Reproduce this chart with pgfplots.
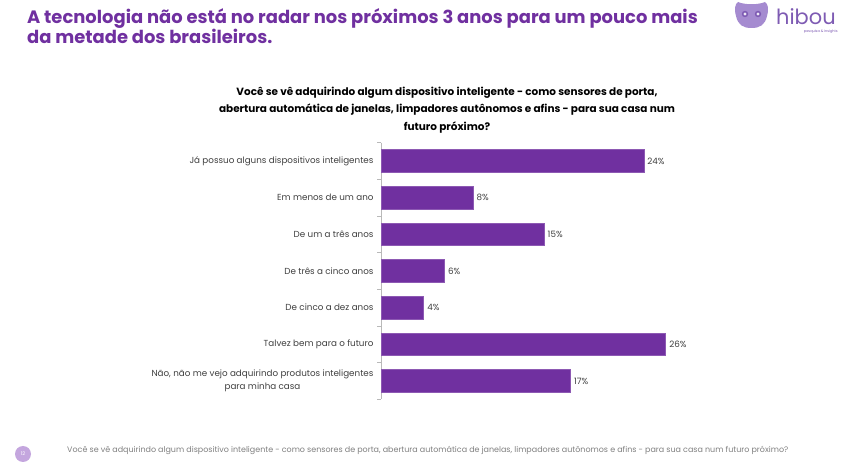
\documentclass[border=0pt]{standalone}
\usepackage{fontspec}
\setmainfont{Poppins}
\usepackage{pgfplots}
\usepackage{pgfplotstable}
\pgfplotsset{compat=1.18}
\definecolor{barpurple}{HTML}{7030A0}
\definecolor{titlepurple}{HTML}{7030A0}
\definecolor{labgray}{HTML}{404040}
\definecolor{footgray}{HTML}{808080}
\definecolor{lilac}{HTML}{C4A6DE}
\definecolor{owl}{HTML}{A58BD0}
\definecolor{owldark}{HTML}{7E5BB3}
\pgfplotstableread{
y x meta
0 24.0 24
1 8.4 8
2 14.9 15
3 5.8 6
4 3.9 4
5 26.0 26
6 17.3 17
}\datatable
\begin{document}
\begin{tikzpicture}
\useasboundingbox (0,0) rectangle (850bp,471bp);
\fill[white] (0,0) rectangle (850bp,471bp);
% title
\node[anchor=north west, align=left, text=titlepurple, font=\fontsize{18}{20}\selectfont\bfseries, inner sep=0pt]
  at (27bp,463bp) {A tecnologia não está no radar nos próximos 3 anos para um pouco mais\\da metade dos brasileiros.};
% question
\node[align=center, font=\fontsize{10.5}{17.5}\selectfont\bfseries, inner sep=0pt]
  at (447bp,361bp) {Você se vê adquirindo algum dispositivo inteligente - como sensores de porta,\\abertura automática de janelas, limpadores autônomos e afins - para sua casa num\\futuro próximo?};
% logo
\fill[owl] (736bp,455bp) .. controls (734bp,462bp) and (735bp,467bp) .. (738bp,469bp)
  .. controls (745bp,466bp) and (758bp,466bp) .. (765bp,469bp)
  .. controls (768bp,467bp) and (769bp,462bp) .. (767bp,455bp)
  .. controls (765bp,446bp) and (760bp,443bp) .. (751.5bp,443bp)
  .. controls (743bp,443bp) and (738bp,446bp) .. (736bp,455bp) -- cycle;
\fill[owldark] (745bp,457bp) circle (3.2bp);
\fill[owldark] (758bp,457bp) circle (3.2bp);
\fill[white!80!owl] (745bp,457bp) circle (1.6bp);
\fill[white!80!owl] (758bp,457bp) circle (1.6bp);
\node[anchor=base west, text=owldark, font=\fontsize{21}{22}\selectfont, inner sep=0pt] at (776bp,446bp) {hibou};
\node[anchor=north east, text=owldark, font=\fontsize{3.5}{4}\selectfont, inner sep=0pt] at (838bp,441bp) {pesquisa \& insights};
% footer
\fill[lilac] (23bp,17bp) circle (8bp);
\node[text=white, font=\fontsize{5}{6}\selectfont, inner sep=0pt] at (23bp,17bp) {12};
\node[anchor=west, text=footgray, font=\fontsize{8}{9}\selectfont, inner sep=0pt] at (67bp,21bp)
  {Você se vê adquirindo algum dispositivo inteligente - como sensores de porta, abertura automática de janelas, limpadores autônomos e afins - para sua casa num futuro próximo?};
\begin{axis}[
  at={(381bp,71.7bp)}, anchor=south west,
  scale only axis, width=328.5bp, height=256.7bp,
  xbar, bar width=22.5bp,
  xmin=0, xmax=30,
  ymin=-0.5, ymax=6.5, y dir=reverse,
  hide x axis,
  axis y line*=left,
  y axis line style={draw=gray!55, line width=0.8pt},
  ytick={0,...,6},
  yticklabels={Já possuo alguns dispositivos inteligentes, Em menos de um ano, De um a três anos, De três a cinco anos, De cinco a dez anos, Talvez bem para o futuro, {Não, não me vejo adquirindo produtos inteligentes\\para minha casa}},
  yticklabel style={font=\fontsize{8.8}{12.5}\selectfont, text=labgray, align=center, xshift=-4bp},
  minor ytick={-0.5,0.5,...,6.5},
  major tick length=0pt, minor tick length=4bp,
  tick align=outside, tick pos=left,
  minor tick style={draw=gray!55, line width=0.8pt},
  major tick style={draw=none},
  point meta=explicit symbolic,
  nodes near coords={\pgfplotspointmeta\%},
  nodes near coords style={font=\fontsize{8.8}{10}\selectfont, text=labgray, anchor=west, xshift=0bp},
  clip=false,
]
\addplot[fill=barpurple, draw=barpurple!80!white, line width=0.5pt] table[x=x, y=y, meta=meta] {\datatable};
\end{axis}
\end{tikzpicture}
\end{document}
